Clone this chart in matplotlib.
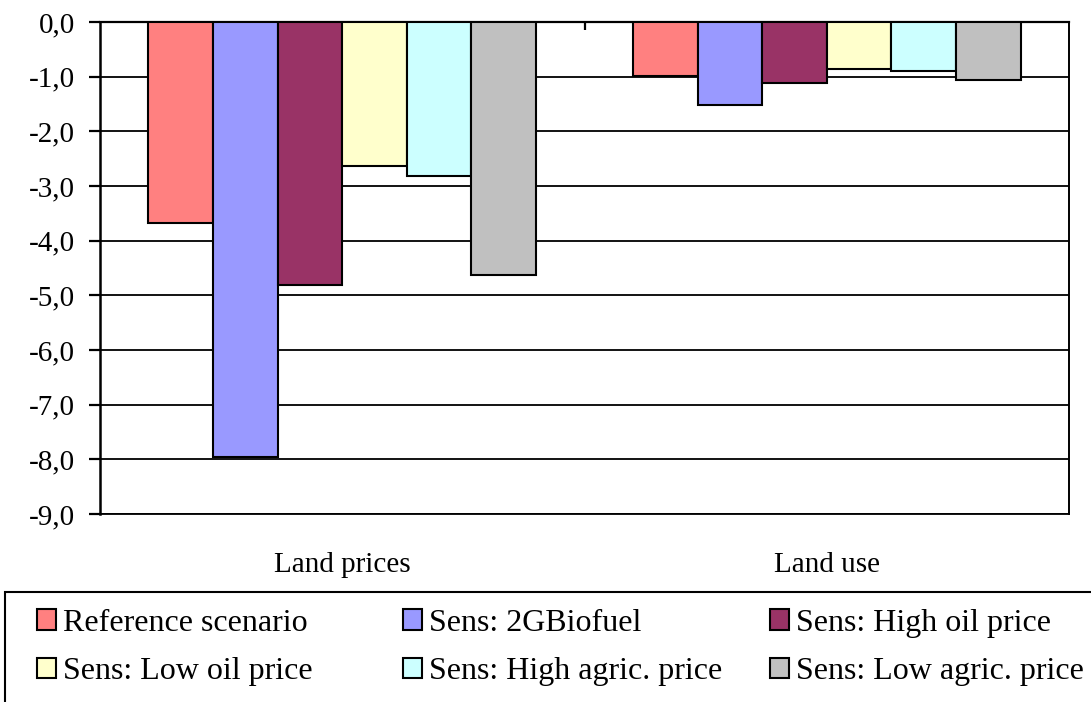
import matplotlib
matplotlib.use("Agg")
import matplotlib.pyplot as plt
from matplotlib.patches import Rectangle
from matplotlib.ticker import FuncFormatter, FixedLocator
import numpy as np

# Percentage change relative to baseline, per scenario
categories = ["Land prices", "Land use"]
scenarios = [
    "Reference scenario",
    "Sens: 2GBiofuel",
    "Sens: High oil price",
    "Sens: Low oil price",
    "Sens: High agric. price",
    "Sens: Low agric. price",
]
reference_scenario = [-3.68, -0.99]
sens_2g_biofuel = [-7.96, -1.52]
sens_high_oil = [-4.81, -1.12]
sens_low_oil = [-2.63, -0.86]
sens_high_agric = [-2.82, -0.90]
sens_low_agric = [-4.63, -1.07]
series = [reference_scenario, sens_2g_biofuel, sens_high_oil,
          sens_low_oil, sens_high_agric, sens_low_agric]
colors = ["#FF8080", "#9999FF", "#993366", "#FFFFCC", "#CCFFFF", "#C0C0C0"]

plt.rcParams["font.family"] = ["Liberation Serif", "DejaVu Serif"]
FS = 21
LEG_FS = 23

fig = plt.figure(figsize=(10.91, 7.02), dpi=100)
W, H = 1091, 702
ax = fig.add_axes([100 / W, 1 - 514 / H, (1069 - 100) / W, (514 - 22) / H])

x = np.arange(len(categories))
n = len(series)
group_width = 0.8
bw = group_width / n
handles = []
for i, (vals, col, name) in enumerate(zip(series, colors, scenarios)):
    pos = x - group_width / 2 + bw * (i + 0.5)
    bars = ax.bar(pos, vals, width=bw, color=col, edgecolor="black",
                  linewidth=1.5, label=name, zorder=3)
    handles.append(bars)

ax.set_xlim(-0.5, len(categories) - 0.5)
ax.set_ylim(-9, 0)
ax.set_yticks(np.arange(-9, 0.5, 1))
ax.yaxis.set_major_formatter(FuncFormatter(lambda v, p: f"{v:.1f}".replace(".", ",").replace("-0,0", "0,0")))
ax.grid(axis="y", color="black", linewidth=1.3, zorder=0)
ax.set_axisbelow(True)

for side in ["left", "right", "top", "bottom"]:
    ax.spines[side].set_color("black")
ax.spines["left"].set_linewidth(1.8)
ax.spines["top"].set_linewidth(1.6)
ax.spines["right"].set_linewidth(1.4)
ax.spines["bottom"].set_linewidth(1.3)

ax.tick_params(axis="y", direction="out", length=8, width=1.6, pad=10,
               labelsize=FS, colors="black")

# Category labels along the bottom, boundary ticks along the top axis line
ax.set_xticks(x)
ax.set_xticklabels(categories)
ax.tick_params(axis="x", which="major", bottom=False, top=False, length=0,
               labelsize=FS, pad=27)
ax.xaxis.set_minor_locator(FixedLocator([0.5]))
ax.tick_params(axis="x", which="minor", bottom=False, top=True,
               direction="in", length=6, width=1.6)

# Legend, framed by a box that runs off the lower right of the figure
fig.patches.append(Rectangle((5 / W, -0.05), 1.1, (1 - 592 / H) + 0.05,
                             transform=fig.transFigure, fill=False,
                             edgecolor="black", linewidth=1.5))
columns = [[0, 3], [1, 4], [2, 5]]
col_x = [11, 377, 744]
for cols, cx in zip(columns, col_x):
    leg = fig.legend([handles[k] for k in cols], [scenarios[k] for k in cols],
                     loc="upper left", bbox_to_anchor=(cx / W, 1 - 583 / H),
                     frameon=False, fontsize=LEG_FS, handlelength=0.62,
                     handleheight=0.62, handletextpad=0.2, labelspacing=0.62,
                     borderpad=0.3)

fig.savefig("out.png", dpi=100)
